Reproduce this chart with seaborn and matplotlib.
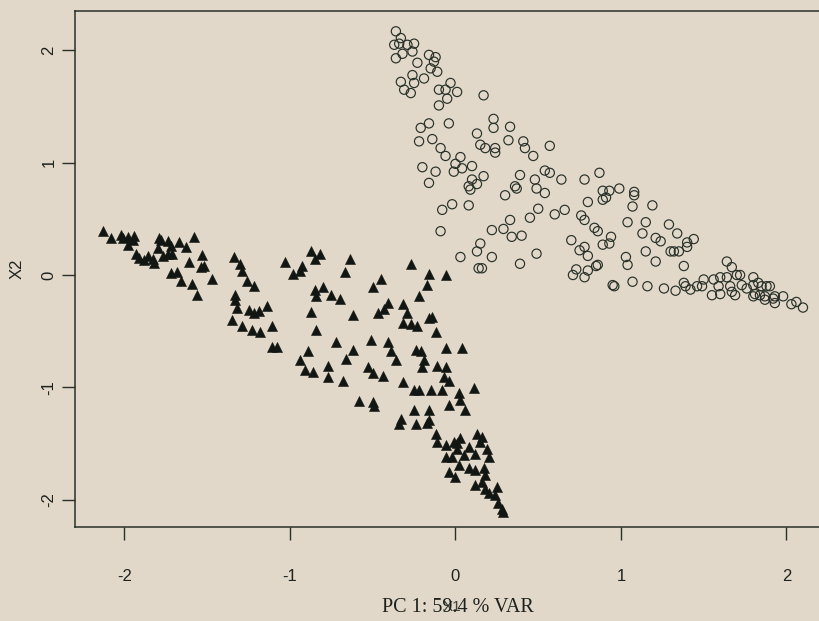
import matplotlib
matplotlib.use("Agg")
import matplotlib.pyplot as plt
import pandas as pd
import seaborn as sns

# Group A scores (open circles)
circle_x = [
    -0.36, -0.33, -0.37, -0.34, -0.29, -0.25, -0.32, -0.26, -0.36, -0.23,
    -0.16, -0.12, -0.13, -0.15, -0.11, -0.26, -0.19, -0.33, -0.25, -0.31,
    -0.27, -0.03, -0.10, -0.06, 0.01, -0.05, -0.10, 0.17, 0.23, 0.23,
    0.33, -0.21, -0.16, -0.04, 0.13, -0.22, -0.14, -0.09, -0.06, 0.03,
    0.00, -0.01, 0.04, 0.10, 0.15, 0.18, 0.24, 0.24, 0.32, 0.41,
    0.42, 0.47, 0.57, -0.20, -0.12, -0.16, 0.08, 0.10, 0.17, 0.13,
    0.09, 0.39, 0.36, 0.37, 0.30, 0.48, 0.49, 0.54, 0.54, 0.57,
    0.64, -0.08, -0.02, 0.08, -0.09, 0.33, 0.22, 0.29, 0.34, 0.40,
    0.45, 0.50, 0.60, 0.66, 0.15, 0.13, 0.03, 0.14, 0.16, 0.22,
    0.39, 0.49, 0.78, 0.87, 0.80, 0.89, 0.93, 0.89, 0.91, 0.99,
    1.08, 1.08, 1.07, 1.19, 0.76, 0.78, 0.84, 0.86, 0.94, 0.93,
    0.89, 1.04, 1.15, 1.13, 1.21, 1.24, 1.29, 1.34, 0.70, 0.75,
    0.78, 0.80, 0.71, 0.73, 0.80, 0.78, 0.85, 0.86, 1.03, 1.04,
    1.15, 1.21, 1.30, 1.32, 0.95, 0.96, 1.07, 1.16, 1.26, 1.33,
    1.40, 1.44, 1.40, 1.35, 1.38, 1.38, 1.39, 1.42, 1.46, 1.50,
    1.49, 1.56, 1.55, 1.60, 1.59, 1.60, 1.64, 1.67, 1.64, 1.66,
    1.70, 1.72, 1.73, 1.69, 1.76, 1.80, 1.80, 1.83, 1.81, 1.84,
    1.88, 1.90, 1.87, 1.93, 1.98, 1.85, 1.67, 1.80, 1.87, 1.92,
    1.93, 2.03, 2.06, 2.10,
]
circle_y = [
    2.17, 2.11, 2.05, 2.06, 2.05, 2.06, 1.97, 1.99, 1.93, 1.89,
    1.96, 1.94, 1.90, 1.84, 1.81, 1.78, 1.75, 1.72, 1.71, 1.65,
    1.62, 1.71, 1.65, 1.65, 1.63, 1.57, 1.51, 1.60, 1.39, 1.31,
    1.32, 1.31, 1.35, 1.35, 1.26, 1.19, 1.21, 1.13, 1.06, 1.05,
    0.99, 0.92, 0.95, 0.97, 1.16, 1.13, 1.13, 1.09, 1.20, 1.19,
    1.13, 1.06, 1.15, 0.96, 0.92, 0.82, 0.79, 0.85, 0.88, 0.81,
    0.76, 0.89, 0.79, 0.77, 0.71, 0.85, 0.77, 0.73, 0.93, 0.91,
    0.85, 0.58, 0.63, 0.62, 0.39, 0.49, 0.40, 0.41, 0.34, 0.35,
    0.51, 0.59, 0.54, 0.58, 0.28, 0.21, 0.16, 0.06, 0.06, 0.16,
    0.10, 0.19, 0.85, 0.91, 0.65, 0.75, 0.75, 0.67, 0.69, 0.77,
    0.74, 0.71, 0.61, 0.62, 0.53, 0.49, 0.42, 0.39, 0.34, 0.28,
    0.27, 0.47, 0.47, 0.37, 0.33, 0.30, 0.45, 0.37, 0.31, 0.22,
    0.25, 0.17, 0.00, 0.05, 0.04, -0.02, 0.08, 0.09, 0.16, 0.09,
    0.21, 0.12, 0.21, 0.21, -0.09, -0.10, -0.06, -0.10, -0.12, -0.14,
    0.29, 0.32, 0.25, 0.21, 0.08, -0.07, -0.10, -0.13, -0.10, -0.04,
    -0.10, -0.04, -0.18, -0.02, -0.10, -0.17, 0.12, 0.07, -0.02, -0.10,
    0.00, 0.00, -0.09, -0.18, -0.12, -0.02, -0.09, -0.07, -0.17, -0.18,
    -0.10, -0.10, -0.19, -0.19, -0.19, -0.10, -0.15, -0.19, -0.22, -0.21,
    -0.25, -0.26, -0.24, -0.29,
]

# Group B scores (filled triangles)
tri_x = [
    -2.13, -2.08, -2.02, -2.01, -1.98, -1.94, -1.95, -1.98, -1.93, -1.91,
    -1.88, -1.86, -1.83, -1.82, -1.79, -1.78, -1.80, -1.77, -1.74, -1.72,
    -1.74, -1.71, -1.67, -1.63, -1.58, -1.61, -1.53, -1.54, -1.52, -1.72,
    -1.68, -1.66, -1.59, -1.56, -1.47, -1.34, -1.30, -1.29, -1.26, -1.22,
    -1.33, -1.33, -1.32, -1.25, -1.22, -1.19, -1.14, -1.35, -1.29, -1.23,
    -1.18, -1.11, -1.11, -1.08, -1.03, -0.98, -0.94, -0.93, -0.87, -0.82,
    -0.85, -0.64, -0.67, -0.85, -0.80, -0.84, -0.75, -0.70, -0.87, -0.84,
    -0.62, -0.72, -0.62, -0.66, -0.89, -0.94, -0.91, -0.86, -0.77, -0.77,
    -0.68, -0.58, -0.50, -0.49, -0.53, -0.50, -0.44, -0.51, -0.41, -0.39,
    -0.36, -0.50, -0.45, -0.47, -0.43, -0.41, -0.32, -0.29, -0.32, -0.27,
    -0.23, -0.16, -0.14, -0.12, -0.27, -0.16, -0.06, -0.17, -0.22, -0.32,
    -0.25, -0.22, -0.15, -0.24, -0.21, -0.19, -0.20, -0.11, -0.06, -0.06,
    0.04, -0.07, -0.04, -0.08, 0.02, 0.03, 0.11, -0.04, 0.06, -0.25,
    -0.16, -0.33, -0.34, -0.24, -0.17, -0.16, -0.12, -0.11, -0.06, 0.01,
    0.03, -0.06, -0.02, 0.02, -0.04, 0.00, 0.08, 0.08, 0.12, 0.13,
    -0.01, 0.01, 0.16, 0.15, 0.05, 0.12, 0.19, 0.20, 0.12, 0.17,
    0.18, 0.16, 0.18, 0.20, 0.25, 0.24, 0.26, 0.28, 0.29,
]
tri_y = [
    0.39, 0.33, 0.36, 0.33, 0.34, 0.35, 0.31, 0.27, 0.19, 0.15,
    0.13, 0.17, 0.14, 0.11, 0.33, 0.31, 0.24, 0.17, 0.30, 0.26,
    0.19, 0.19, 0.29, 0.25, 0.34, 0.12, 0.18, 0.07, 0.08, 0.02,
    0.03, -0.05, -0.08, -0.18, -0.04, 0.16, 0.10, 0.04, -0.05, -0.10,
    -0.18, -0.22, -0.29, -0.31, -0.34, -0.32, -0.28, -0.40, -0.45, -0.49,
    -0.51, -0.45, -0.64, -0.64, 0.12, 0.01, 0.04, 0.08, 0.21, 0.19,
    0.14, 0.14, 0.03, -0.13, -0.11, -0.19, -0.18, -0.21, -0.33, -0.49,
    -0.36, -0.60, -0.67, -0.75, -0.68, -0.76, -0.85, -0.86, -0.81, -0.91,
    -0.94, -1.12, -1.13, -1.17, -0.82, -0.87, -0.90, -0.58, -0.60, -0.68,
    -0.76, -0.11, -0.04, -0.34, -0.30, -0.25, -0.26, -0.34, -0.43, -0.44,
    -0.45, -0.38, -0.37, -0.51, 0.10, 0.01, 0.00, -0.09, -0.19, -0.95,
    -1.02, -1.02, -1.02, -0.67, -0.68, -0.76, -0.82, -0.81, -0.82, -0.65,
    -0.65, -0.91, -0.94, -1.02, -1.05, -1.11, -1.01, -1.16, -1.20, -1.20,
    -1.20, -1.28, -1.33, -1.33, -1.32, -1.29, -1.42, -1.49, -1.51, -1.50,
    -1.45, -1.62, -1.62, -1.69, -1.75, -1.80, -1.53, -1.72, -1.87, -1.42,
    -1.49, -1.55, -1.44, -1.49, -1.60, -1.59, -1.55, -1.62, -1.74, -1.72,
    -1.78, -1.84, -1.91, -1.94, -1.89, -1.96, -2.03, -2.08, -2.11,
]

x_ticks = [-2, -1, 0, 1, 2]
y_ticks = [-2, -1, 0, 1, 2]
x_label = "X1"
y_label = "X2"
axis_caption = "PC 1: 59.4 % VAR"

paper = "#e1d8c9"
ink = "#283028"

sns.set_style("ticks")
plt.rcParams["font.family"] = ["Liberation Sans", "DejaVu Sans"]

group_a = pd.DataFrame({"PC1": circle_x, "PC2": circle_y})
group_b = pd.DataFrame({"PC1": tri_x, "PC2": tri_y})

fig = plt.figure(figsize=(8.19, 6.21), dpi=100, facecolor=paper)
ax = fig.add_axes([0.0916, 0.1514, 0.984, 0.8309])
ax.set_facecolor(paper)

sns.scatterplot(data=group_a, x="PC1", y="PC2", marker="o", s=44,
                color=ink, edgecolor=ink, linewidth=0.85, ax=ax)
ax.collections[-1].set_facecolor("none")

sns.scatterplot(data=group_b, x="PC1", y="PC2", marker="^", s=52,
                color="#121612", edgecolor="#121612", linewidth=0.4, ax=ax)

ax.set_xlim(-2.299, 2.571)
ax.set_ylim(-2.244, 2.351)
ax.set_xticks(x_ticks)
ax.set_yticks(y_ticks)
ax.set_xticklabels([str(t) for t in x_ticks])
ax.set_yticklabels([str(t) for t in y_ticks])

for side in ["left", "bottom", "top", "right"]:
    ax.spines[side].set_color(ink)
    ax.spines[side].set_linewidth(1.1)

ax.tick_params(axis="both", length=9.5, width=1.0, color=ink,
               labelsize=12, labelcolor="#1e221e")
ax.tick_params(axis="x", pad=21)
ax.tick_params(axis="y", pad=4, labelrotation=90)
for lab in ax.get_yticklabels():
    lab.set_verticalalignment("center")

# the axis name sits over the caption line, as printed
ax.set_xlabel(x_label, fontsize=11, color="#3c423c")
ax.xaxis.set_label_coords(0.468, -0.141)
ax.set_ylabel(y_label, fontsize=12, color="#1e221e")
ax.yaxis.set_label_coords(-0.063, 0.5)

fig.text(458 / 819, 1 - 607 / 621, axis_caption, ha="center", va="center",
         fontsize=14.5, family=["Liberation Serif", "DejaVu Serif"],
         color="#1e221e")

fig.savefig("out.png", dpi=100, facecolor=paper)
